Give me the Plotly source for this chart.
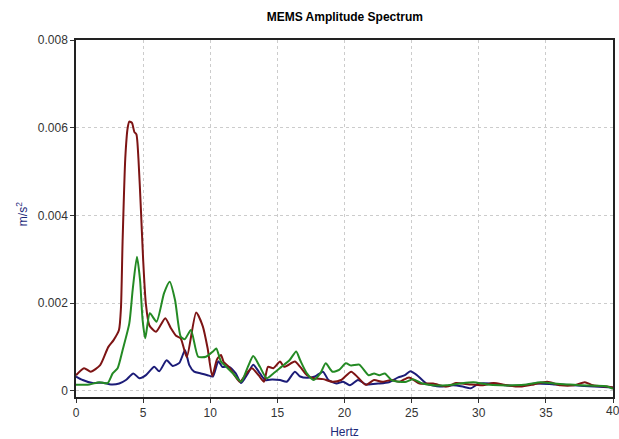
import plotly.graph_objects as go

# ---- data ----
red_f = [0, 0.6, 1.1, 1.8, 2.4, 2.8, 3.2, 3.35, 3.47, 3.67, 3.85, 3.97, 4.17, 4.35, 4.5, 4.65, 4.84, 5.0, 5.2,
         5.46, 5.96, 6.65, 7.07, 7.45, 7.8, 8.25, 8.95, 9.44, 9.8, 10.15, 10.5, 10.8, 11.0, 11.4, 11.8, 12.2,
         12.7, 13.1, 13.6, 14.0, 14.3, 14.7, 15.2, 15.5, 16.3, 16.7, 17.2, 17.7, 18.4, 19.1, 19.75, 20.5,
         21.0, 21.6, 22.2, 22.8, 23.5, 24.1, 24.8, 25.6, 26.6, 27.6, 28.3, 29.3, 30.3, 31.1, 32.1, 33.1,
         34.1, 35.1, 36.1, 37.1, 37.9, 38.5, 39.5, 40]
red_v = [0.00036, 0.00052, 0.00044, 0.00059, 0.0010, 0.00116, 0.00139, 0.0019, 0.0034, 0.0053, 0.0060,
         0.00614, 0.00611, 0.0059, 0.00585, 0.0053, 0.0041, 0.0030, 0.0020, 0.0015, 0.00135, 0.00166,
         0.00143, 0.00126, 0.00120, 0.00077, 0.00179, 0.00148, 0.00098, 0.00034, 0.00072, 0.00082, 0.00066,
         0.00055, 0.00036, 0.00021, 0.0004, 0.00052, 0.00036, 0.00021, 0.00055, 0.00052, 0.00067, 0.00055,
         0.00067, 0.00055, 0.00036, 0.00029, 0.00027, 0.00021, 0.00025, 0.00044, 0.00031, 0.00014, 0.00025,
         0.00021, 0.00025, 0.00021, 0.00031, 0.00017, 0.00017, 0.0001, 0.00018, 0.00015, 0.00013, 0.00018,
         0.00013, 0.0001, 0.00015, 0.00021, 0.00013, 0.00013, 0.0002, 0.00013, 0.0001, 0.00008]

green_f = [0, 1.0, 1.74, 2.36, 2.73, 3.1, 3.47, 3.97, 4.22, 4.54, 4.77, 4.96, 5.16, 5.5, 6.0, 6.56, 6.98,
           7.38, 7.8, 8.1, 8.56, 9.1, 9.68, 10.2, 10.45, 10.8, 11.2, 11.7, 12.3, 12.8, 13.2, 13.7, 14.2,
           14.7, 15.3, 15.9, 16.4, 16.7, 17.2, 17.7, 18.2, 18.6, 19.1, 19.6, 20.1, 20.5, 21.1, 21.8, 22.2,
           22.6, 23.0, 23.5, 24.1, 24.6, 25.1, 25.8, 26.6, 27.6, 28.6, 29.6, 30.6, 31.6, 32.6, 33.6, 34.6,
           35.6, 36.6, 37.6, 38.6, 39.5, 40]
green_v = [0.00014, 0.00015, 0.0002, 0.00018, 0.0004, 0.00052, 0.00093, 0.00154, 0.0023, 0.00306, 0.00253,
           0.00162, 0.0012, 0.00177, 0.00158, 0.00223, 0.00249, 0.00207, 0.00124, 0.00118, 0.00139, 0.00078,
           0.00078, 0.0009, 0.00097, 0.00067, 0.00055, 0.0004, 0.00021, 0.00055, 0.0008, 0.00055, 0.00029,
           0.0004, 0.00055, 0.0007, 0.0009, 0.0007, 0.0004, 0.00025, 0.0004, 0.00063, 0.00044, 0.00048,
           0.00063, 0.00058, 0.0006, 0.00036, 0.0004, 0.00036, 0.0004, 0.00025, 0.00021, 0.00021, 0.00027,
           0.00017, 0.00013, 0.00013, 0.00017, 0.0002, 0.00015, 0.00013, 0.00013, 0.00015, 0.0002, 0.00017,
           0.00015, 0.00013, 0.00012, 0.00011, 0.00005]

blue_f = [0, 0.5, 1.24, 1.98, 2.6, 3.22, 3.72, 4.27, 4.72, 5.21, 5.83, 6.2, 6.75, 7.2, 7.7, 8.12, 8.44, 8.8,
          9.3, 9.8, 10.2, 10.6, 10.9, 11.4, 11.9, 12.3, 12.8, 13.2, 13.7, 14.1, 14.6, 15.2, 15.7, 16.3,
          16.7, 17.2, 17.8, 18.4, 18.8, 19.4, 19.9, 20.4, 21.0, 21.6, 22.5, 23.3, 24.0, 24.5, 24.9, 25.4,
          26.1, 27.1, 28.1, 28.8, 29.4, 30.0, 31.0, 32.0, 33.0, 34.3, 35.6, 37.1, 38.6, 40]
blue_v = [0.00033, 0.00025, 0.00018, 0.00019, 0.00015, 0.00017, 0.00025, 0.0004, 0.00029, 0.00036, 0.00055,
          0.00045, 0.0007, 0.00057, 0.00064, 0.00093, 0.00059, 0.00044, 0.0004, 0.00036, 0.00033, 0.00068,
          0.00055, 0.00055, 0.0004, 0.00018, 0.0004, 0.0006, 0.0004, 0.00025, 0.00026, 0.00025, 0.00021,
          0.00044, 0.00033, 0.0003, 0.00033, 0.00044, 0.00025, 0.00017, 0.00021, 0.00013, 0.00025, 0.00015,
          0.00017, 0.0002, 0.00031, 0.00036, 0.00045, 0.00036, 0.00017, 0.0001, 0.00013, 0.0001, 0.00006,
          0.00017, 0.00017, 0.00013, 0.00012, 0.00017, 0.00015, 0.00013, 0.0001, 0.00008]

x_ticks = [0, 5, 10, 15, 20, 25, 30, 35, 40]
y_ticks = [0, 0.002, 0.004, 0.006, 0.008]
y_tick_text = ["0", "0.002", "0.004", "0.006", "0.008"]

FONT = "Arial, Liberation Sans, sans-serif"
TICK_FONT = dict(family=FONT, size=12, color="#333333")
AXIS_TITLE_FONT = dict(family=FONT, size=12, color="#1c2a7a")

fig = go.Figure()
for f, v, c in [(blue_f, blue_v, "#1c1c78"), (red_f, red_v, "#7d1414"), (green_f, green_v, "#248a24")]:
    fig.add_trace(go.Scatter(x=f, y=v, mode="lines",
                             line=dict(color=c, width=2, shape="spline", smoothing=0.6),
                             showlegend=False, hoverinfo="skip"))

fig.update_layout(
    width=619, height=439,
    margin=dict(l=76, r=6, t=40, b=42),
    paper_bgcolor="white", plot_bgcolor="white",
    font=dict(family=FONT, size=12, color="#222222"),
    title=dict(text="<b>MEMS Amplitude Spectrum</b>", x=0.557, xanchor="center",
               y=0.961, yanchor="middle", font=dict(family=FONT, size=12, color="black")),
)
fig.update_xaxes(
    range=[0, 40], tickvals=x_ticks, ticks="outside", ticklen=4, tickcolor="#333333",
    automargin=False,
    showline=True, linecolor="#222222", linewidth=1.5, mirror=True,
    showgrid=True, gridcolor="#cccccc", griddash="dot", gridwidth=1, zeroline=False,
    tickfont=TICK_FONT,
    title=dict(text="Hertz", font=AXIS_TITLE_FONT),
)
fig.update_yaxes(
    range=[-0.000137, 0.008], tickvals=y_ticks, ticktext=y_tick_text, ticks="outside", ticklen=4,
    tickcolor="#333333", automargin=False,
    showline=True, linecolor="#222222", linewidth=1.5, mirror=True,
    showgrid=True, gridcolor="#cccccc", griddash="dot", gridwidth=1, zeroline=False,
    tickfont=TICK_FONT,
)

# last x tick label sits on the window edge (partly cut in the reference); plotly hides it, so draw it
fig.add_annotation(text=str(x_ticks[-1]), x=x_ticks[-1], xref="x", y=0, yref="paper",
                   xanchor="center", yanchor="top", yshift=-5, showarrow=False, font=TICK_FONT)
# y-axis title placed where the reference has it
fig.add_annotation(text="m/s<sup>2</sup>", textangle=-90, xref="paper", yref="paper",
                   x=-0.1, y=0.513, xanchor="center", yanchor="middle", showarrow=False,
                   font=AXIS_TITLE_FONT)

# remove the default page margin so the figure sits at the window's top-left corner
fig.write_html("out.html", config={"displayModeBar": False},
               post_script="document.body.style.margin='0';")
